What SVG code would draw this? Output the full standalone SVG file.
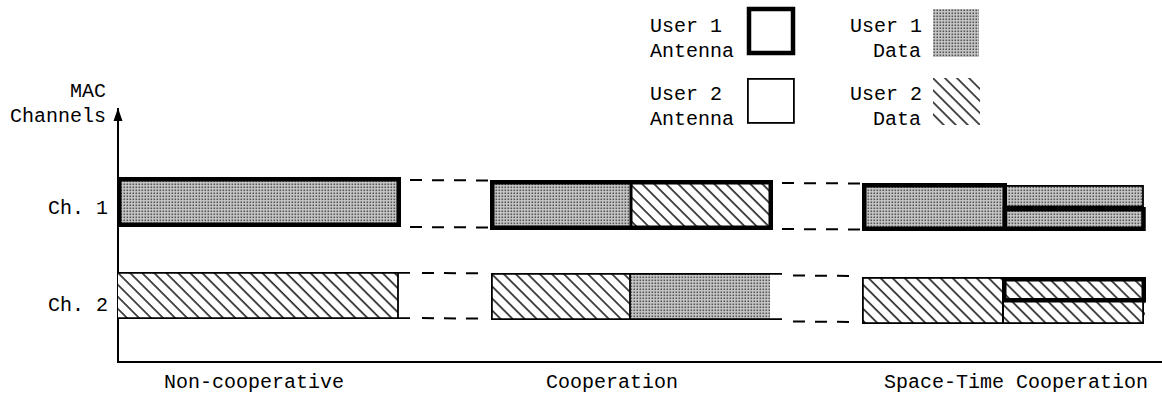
<svg xmlns="http://www.w3.org/2000/svg" width="1162" height="412" viewBox="0 0 1162 412">
  <style>
    text { font-family: "Liberation Mono", "Courier New", monospace; font-size: 20px; fill: #000; }
    .end { text-anchor: end; }
    .thick { fill: none; stroke: #000; stroke-width: 4.5; }
    .thin { fill: none; stroke: #000; stroke-width: 1.8; }
    .split { stroke: #000; stroke-width: 3; }
    .dash { stroke: #000; stroke-width: 2; stroke-dasharray: 12 10; fill: none; }
    .axis { stroke: #000; stroke-width: 2; fill: none; }
    .u1 { fill: url(#stipple); }
    .u2 { fill: url(#hatch); }
  </style>
  <defs>
    <!-- fine dot screen for User 1 data -->
    <pattern id="stipple" patternUnits="userSpaceOnUse" width="3" height="3">
      <rect width="3" height="3" fill="#c8c8c8"/>
      <rect x="0.5" y="0.5" width="1.6" height="1.6" fill="#555"/>
    </pattern>
    <!-- back-slash hatching for User 2 data -->
    <pattern id="hatch" patternUnits="userSpaceOnUse" width="8.5" height="8.5" patternTransform="rotate(-45)">
      <rect width="8.5" height="8.5" fill="#fff"/>
      <line x1="1" y1="0" x2="1" y2="8.5" stroke="#000" stroke-width="1.4"/>
    </pattern>
    <!-- arrowhead drawn along +x so it follows the line direction -->
    <marker id="arrow" markerWidth="14" markerHeight="10" refX="13" refY="5" orient="auto" markerUnits="userSpaceOnUse">
      <path d="M0,0.5 L13,5 L0,9.5 Z" fill="#000"/>
    </marker>
  </defs>

  <!-- legend -->
  <g id="legend">
    <g id="legend-user1-antenna">
      <text x="650" y="32">User 1</text>
      <text x="650" y="57">Antenna</text>
      <rect class="thick" x="749" y="9" width="44" height="44"/>
    </g>
    <g id="legend-user2-antenna">
      <text x="650" y="100">User 2</text>
      <text x="650" y="125">Antenna</text>
      <rect class="thin" x="747.9" y="78.9" width="46" height="44"/>
    </g>
    <g id="legend-user1-data">
      <text x="850" y="32">User 1</text>
      <text class="end" x="921" y="57">Data</text>
      <rect class="u1" x="933" y="9" width="46" height="48"/>
    </g>
    <g id="legend-user2-data">
      <text x="850" y="100">User 2</text>
      <text class="end" x="921" y="125">Data</text>
      <rect class="u2" x="933" y="78" width="47" height="47"/>
    </g>
  </g>

  <!-- axes and labels -->
  <g id="axes">
    <line class="axis" x1="118" y1="362" x2="118" y2="108" marker-end="url(#arrow)"/>
    <line class="axis" x1="117" y1="362" x2="1162" y2="362"/>
    <text class="end" x="106" y="97">MAC</text>
    <text class="end" x="106" y="122">Channels</text>
    <text class="end" x="108" y="214">Ch. 1</text>
    <text class="end" x="108" y="311">Ch. 2</text>
    <text x="164" y="388">Non-cooperative</text>
    <text x="546" y="388">Cooperation</text>
    <text x="884" y="388">Space-Time Cooperation</text>
  </g>

  <!-- non-cooperative scheme -->
  <g id="noncoop-ch1">
    <rect class="u1" x="119" y="179" width="280" height="46"/>
    <rect class="thick" x="119.25" y="179.25" width="279.5" height="45.5"/>
  </g>
  <g id="noncoop-ch2">
    <rect class="u2" x="118" y="272" width="280" height="46"/>
    <path class="thin" d="M118,272.9 H410 M118,318.1 H410 M398,272.9 V318.1"/>
  </g>

  <!-- cooperation scheme -->
  <g id="coop-ch1">
    <rect class="u1" x="492" y="182" width="139" height="46"/>
    <rect class="u2" x="631" y="182" width="140" height="46"/>
    <line class="split" x1="631" y1="182" x2="631" y2="228"/>
    <rect class="thick" x="492.25" y="182.25" width="278.5" height="45.5"/>
  </g>
  <g id="coop-ch2">
    <rect class="u2" x="491" y="273" width="139" height="47"/>
    <rect class="u1" x="630" y="273" width="140" height="47"/>
    <path class="thin" d="M491.9,273 V320 M491,273.9 H782 M491,319.1 H782 M630,273 V320"/>
  </g>

  <!-- space-time cooperation scheme -->
  <g id="st-ch1">
    <rect class="u1" x="864" y="185" width="141" height="44"/>
    <rect class="u1" x="1005" y="185" width="138" height="21"/>
    <rect class="u1" x="1005" y="208" width="140" height="23"/>
    <rect class="thin" x="1005" y="185.9" width="138" height="20.6"/>
    <rect class="thick" x="864.25" y="185.25" width="140.5" height="43.5"/>
    <rect class="thick" x="1005" y="209.25" width="138.5" height="19.5"/>
  </g>
  <g id="st-ch2">
    <rect class="u2" x="862" y="277" width="141" height="47"/>
    <rect class="u2" x="1003" y="277" width="142" height="47"/>
    <rect class="thin" x="862.9" y="277.9" width="140.1" height="45.2"/>
    <rect class="thin" x="1003" y="300" width="140.1" height="23.1"/>
    <rect class="thick" x="1004.25" y="279.25" width="139.5" height="21"/>
  </g>

  <!-- dashed guides linking the channel rows between schemes -->
  <g id="connectors">
    <line class="dash" x1="410" y1="180" x2="490" y2="180.5"/>
    <line class="dash" x1="410" y1="227" x2="490" y2="227.5"/>
    <line class="dash" x1="422" y1="272.9" x2="482" y2="273.3"/>
    <line class="dash" x1="422" y1="318.1" x2="482" y2="318.6"/>
    <line class="dash" x1="782" y1="183" x2="862" y2="183.5"/>
    <line class="dash" x1="782" y1="229" x2="862" y2="229.5"/>
    <line class="dash" x1="793" y1="275.5" x2="858" y2="276"/>
    <line class="dash" x1="793" y1="321.5" x2="858" y2="322"/>
  </g>
</svg>
